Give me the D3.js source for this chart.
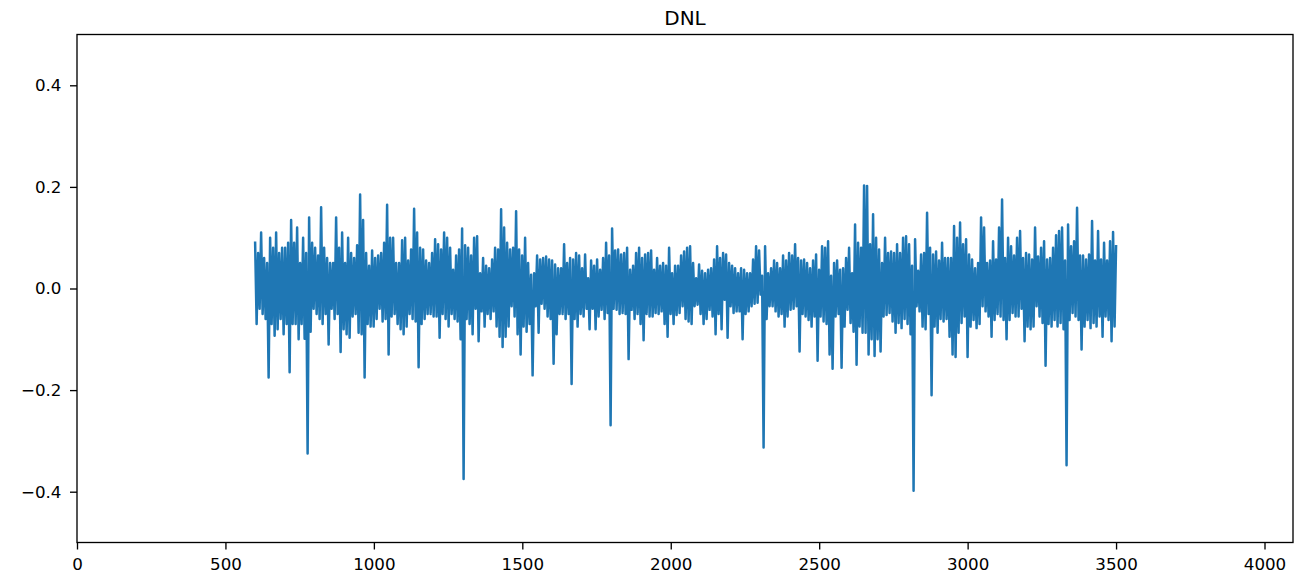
<!DOCTYPE html>
<html>
<head>
<meta charset="utf-8">
<script src="https://cdn.jsdelivr.net/npm/d3@7"></script>
<style>
  html, body { margin: 0; padding: 0; background: #ffffff; }
  svg { display: block; }
  text { font-family: "DejaVu Sans", sans-serif; fill: #000; }
</style>
</head>
<body>
<svg id="chart" width="1315" height="577"></svg>
<script>
// Differential non-linearity per output code (LSB), sampled across codes 600..3500
const codeFirst = 600;
const codeLast = 3500;
const dnl = [
  0.09,-0.07, 0.07,-0.04, 0.11,-0.05, 0.06,-0.06, 0.05,-0.175, 0.10,-0.07, 0.08,-0.093, 0.11,-0.08, 0.07,-0.06, 0.08,-0.09,
  0.08,-0.07, 0.09,-0.165, 0.135,-0.07, 0.09,-0.07, 0.12,-0.10, 0.05,-0.07, 0.10,-0.099, 0.07,-0.325, 0.14,-0.085, 0.09,-0.04,
  0.08,-0.05, 0.065,-0.06, 0.16,-0.07, 0.08,-0.05, 0.06,-0.11, 0.05,-0.04, 0.05,-0.06, 0.14,-0.05, 0.08,-0.125, 0.11,-0.08,
  0.05,-0.09, 0.10,-0.097, 0.07,-0.055, 0.06,-0.05,
  0.085,-0.087, 0.185,-0.09, 0.135,-0.175, 0.07,-0.07, 0.045,-0.075, 0.075,-0.075, 0.06,-0.06, 0.065,-0.04, 0.07,-0.065, 0.09,-0.06,
  0.165,-0.13, 0.10,-0.055, 0.10,-0.05, 0.05,-0.07, 0.05,-0.08, 0.095,-0.09, 0.10,-0.075, 0.055,-0.05, 0.077,-0.06, 0.157,-0.065,
  0.11,-0.155, 0.08,-0.07, 0.077,-0.06, 0.055,-0.05, 0.05,-0.05, 0.07,-0.055, 0.097,-0.055, 0.087,-0.097, 0.077,-0.05, 0.11,-0.06,
  0.10,-0.075, 0.08,-0.05, 0.037,-0.06, 0.065,-0.065, 0.077,-0.10, 0.118,-0.375, 0.085,-0.06,
  0.08,-0.07, 0.065,-0.09, 0.10,-0.04, 0.103,-0.104, 0.03,-0.045, 0.06,-0.075, 0.045,-0.05, 0.04,-0.06, 0.057,-0.045, 0.08,-0.075,
  0.077,-0.095, 0.156,-0.115, 0.12,-0.095, 0.09,-0.075, 0.077,-0.035, 0.08,-0.055, 0.152,-0.09, 0.077,-0.13, 0.065,-0.075, 0.10,-0.085,
  0.05,-0.07, 0.027,-0.171, 0.03,-0.035, 0.065,-0.087, 0.057,-0.03, 0.06,-0.04, 0.063,-0.055, 0.057,-0.06, 0.055,-0.148, 0.047,-0.09,
  0.04,-0.05, 0.04,-0.05, 0.087,-0.06, 0.05,-0.05, 0.06,-0.188, 0.057,-0.06,
  0.07,-0.075, 0.065,-0.05, 0.04,-0.055, 0.067,-0.04, 0.02,-0.08, 0.055,-0.04, 0.045,-0.08, 0.057,-0.055, 0.037,-0.042, 0.06,-0.06,
  0.09,-0.048, 0.065,-0.269, 0.118,-0.04, 0.075,-0.042, 0.077,-0.05, 0.067,-0.048, 0.07,-0.05, 0.08,-0.139, 0.037,-0.042, 0.045,-0.06,
  0.07,-0.05, 0.08,-0.07, 0.06,-0.102, 0.067,-0.05, 0.07,-0.055, 0.075,-0.055, 0.037,-0.048, 0.06,-0.05, 0.045,-0.045, 0.05,-0.07,
  0.045,-0.095, 0.08,-0.05, 0.03,-0.07, 0.045,-0.052, 0.045,-0.048, 0.065,-0.035, 0.073,-0.06,
  0.08,-0.065, 0.083,-0.07, 0.05,-0.035, 0.02,-0.032, 0.047,-0.05, 0.035,-0.07, 0.03,-0.06, 0.037,-0.042, 0.04,-0.055, 0.057,-0.09,
  0.083,-0.05, 0.06,-0.08, 0.07,-0.022, 0.067,-0.097, 0.05,-0.035, 0.045,-0.048, 0.04,-0.045, 0.03,-0.045, 0.04,-0.10, 0.037,-0.05,
  0.03,-0.045, 0.03,-0.035, 0.057,-0.03, 0.083,-0.028, 0.075,-0.012, 0.025,-0.313, 0.083,-0.06, 0.03,-0.035, 0.04,-0.035, 0.055,-0.045,
  0.05,-0.055, 0.04,-0.05, 0.065,-0.075, 0.055,-0.055, 0.07,-0.042, 0.065,-0.04, 0.087,-0.035,
  0.06,-0.124, 0.055,-0.05, 0.057,-0.055, 0.05,-0.062, 0.04,-0.075, 0.055,-0.055, 0.067,-0.142, 0.037,-0.055, 0.083,-0.065, 0.08,-0.07,
  0.093,-0.13, 0.025,-0.158, 0.05,-0.055, 0.055,-0.05, 0.037,-0.156, 0.04,-0.075, 0.06,-0.042, 0.08,-0.068, 0.03,-0.085, 0.126,-0.15,
  0.09,-0.075, 0.08,-0.087, 0.203,-0.087, 0.202,-0.13, 0.087,-0.10, 0.146,-0.133, 0.10,-0.10, 0.077,-0.124, 0.05,-0.055, 0.10,-0.052,
  0.07,-0.048, 0.073,-0.065, 0.07,-0.087, 0.087,-0.068, 0.07,-0.078, 0.10,-0.06,
  0.103,-0.07, 0.087,-0.09, 0.045,-0.398, 0.097,-0.035, 0.035,-0.045, 0.067,-0.075, 0.07,-0.08, 0.149,-0.05, 0.08,-0.21, 0.067,-0.075,
  0.073,-0.087, 0.055,-0.06, 0.09,-0.065, 0.06,-0.06, 0.06,-0.095, 0.06,-0.13, 0.123,-0.135, 0.10,-0.087, 0.13,-0.068, 0.087,-0.055,
  0.097,-0.135, 0.067,-0.075, 0.057,-0.062, 0.04,-0.078, 0.05,-0.07, 0.14,-0.035, 0.12,-0.045, 0.05,-0.055, 0.055,-0.095, 0.093,-0.062,
  0.057,-0.05, 0.12,-0.055, 0.175,-0.062, 0.06,-0.10, 0.10,-0.062, 0.083,-0.048, 0.065,-0.055,
  0.10,-0.055, 0.113,-0.04, 0.06,-0.104, 0.07,-0.075, 0.067,-0.08, 0.057,-0.075, 0.12,-0.035, 0.063,-0.055, 0.08,-0.068, 0.093,-0.152,
  0.057,-0.07, 0.06,-0.075, 0.08,-0.062, 0.105,-0.075, 0.113,-0.068, 0.12,-0.08, 0.055,-0.348, 0.126,-0.062, 0.083,-0.048, 0.093,-0.055,
  0.159,-0.062, 0.065,-0.12, 0.065,-0.075, 0.057,-0.062, 0.067,-0.078, 0.133,-0.068, 0.055,-0.075, 0.113,-0.055, 0.057,-0.095, 0.09,-0.055,
  0.055,-0.062, 0.093,-0.104, 0.111,-0.075, 0.083
];

// Axis settings
const xDomain = [0, 4096];
const yDomain = [-0.5, 0.5];
const xTicks = [0, 500, 1000, 1500, 2000, 2500, 3000, 3500, 4000];
const yTicks = [-0.4, -0.2, 0.0, 0.2, 0.4];
const title = "DNL";

// Codes evenly spaced between first and last sampled code
const codeStep = (codeLast - codeFirst) / (dnl.length - 1);
const codes = dnl.map((_, i) => codeFirst + i * codeStep);

const plot = { left: 77, right: 1293, top: 34.5, bottom: 542.5 };

const svg = d3.select("#chart");

const x = d3.scaleLinear().domain(xDomain).range([plot.left, plot.right]);
const y = d3.scaleLinear().domain(yDomain).range([plot.bottom, plot.top]);

// Clip the series to the axes box
svg.append("defs").append("clipPath").attr("id", "plot-clip")
  .append("rect")
  .attr("x", plot.left).attr("y", plot.top)
  .attr("width", plot.right - plot.left).attr("height", plot.bottom - plot.top);

const line = d3.line()
  .x((d, i) => x(codes[i]))
  .y(d => y(d));

svg.append("path")
  .datum(dnl)
  .attr("clip-path", "url(#plot-clip)")
  .attr("fill", "none")
  .attr("stroke", "#1f77b4")
  .attr("stroke-width", 2.5)
  .attr("stroke-linejoin", "round")
  .attr("stroke-linecap", "square")
  .attr("d", line);

// Axes
const tickLen = 7, tickPad = 8.5, fontPx = 16.7;

const gx = svg.append("g")
  .attr("transform", `translate(0,${plot.bottom})`)
  .call(d3.axisBottom(x).tickValues(xTicks).tickFormat(d3.format("d"))
    .tickSize(tickLen).tickPadding(tickPad));

const gy = svg.append("g")
  .attr("transform", `translate(${plot.left},0)`)
  .call(d3.axisLeft(y).tickValues(yTicks).tickFormat(d3.format(".1f"))
    .tickSize(tickLen).tickPadding(tickPad));

[gx, gy].forEach(g => {
  g.select(".domain").remove();
  g.selectAll(".tick line").attr("stroke", "#000").attr("stroke-width", 1.33);
  g.selectAll(".tick text")
    .attr("fill", "#000")
    .style("font-family", "'DejaVu Sans', sans-serif")
    .style("font-size", fontPx + "px");
});

// Axes frame
svg.append("rect")
  .attr("x", plot.left).attr("y", plot.top)
  .attr("width", plot.right - plot.left).attr("height", plot.bottom - plot.top)
  .attr("fill", "none")
  .attr("stroke", "#000")
  .attr("stroke-width", 1.33);

// Title
svg.append("text")
  .attr("x", (plot.left + plot.right) / 2)
  .attr("y", plot.top - 10)
  .attr("text-anchor", "middle")
  .style("font-size", "20px")
  .text(title);
</script>
</body>
</html>
